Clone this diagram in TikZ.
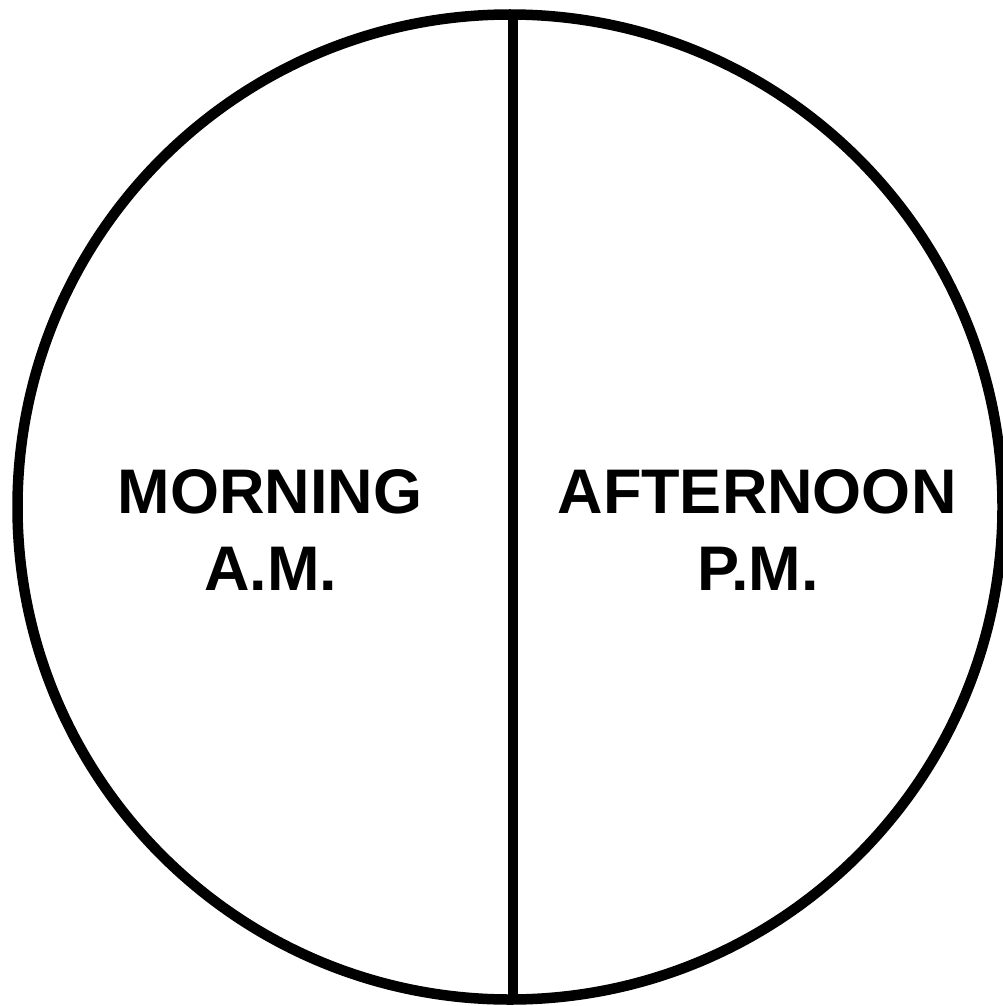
\documentclass[tikz,border=0pt]{standalone}
\usepackage{fontspec}
\setmainfont{Liberation Sans}
\begin{document}
\begin{tikzpicture}[x=1pt,y=-1pt,
  stroke/.style={line width=10.5pt,black},
  lbl/.style={font=\fontsize{63}{77}\selectfont\bfseries,inner sep=0pt,anchor=base}]
\useasboundingbox (0,0) rectangle (1003,1006);
\coordinate (c) at (510,507);
\draw[stroke] (c) circle[radius=492.5];
\coordinate (top) at (513,14);
\coordinate (bot) at (513,1000);
\draw[stroke] (top) -- (bot);
\node[lbl] (m1) at (270,513) {MORNING};
\node[lbl] (m2) at (271,590) {A.M.};
\node[lbl] (a1) at (757,513) {AFTERNOON};
\node[lbl] (a2) at (758,590) {P.M.};
\end{tikzpicture}
\end{document}
